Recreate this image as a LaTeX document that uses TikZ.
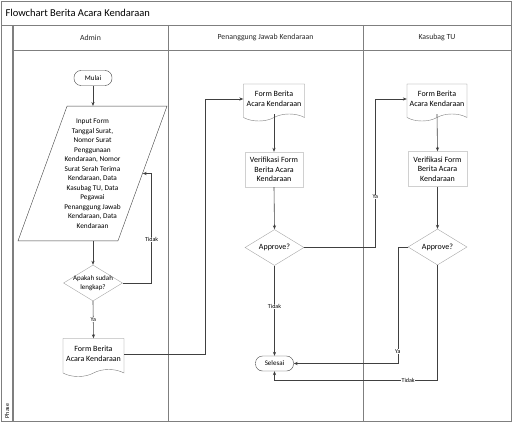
\documentclass[tikz,border=0pt]{standalone}
\usepackage{fontspec}
\setmainfont{Carlito}
\usepackage{tikz}
\usetikzlibrary{shapes.geometric,shapes.symbols,arrows.meta,calc}
\definecolor{framegray}{HTML}{7F7F7F}
\definecolor{shapegray}{HTML}{A6A6A6}
\definecolor{boxgray}{HTML}{D0D0D0}
\definecolor{linedark}{HTML}{404040}

\begin{document}
\begin{tikzpicture}[x=1pt,y=-1pt,
  lane/.style={draw=framegray,line width=0.6pt},
  header/.style={font=\fontsize{7.8}{9}\selectfont,text=black!85},
  terminal/.style={draw=linedark,rounded corners=7pt,inner sep=0pt,
                   minimum width=38pt,minimum height=15pt,
                   font=\fontsize{7}{8}\selectfont},
  io/.style={draw=linedark,trapezium,trapezium left angle=70,
             trapezium right angle=110,
             inner xsep=-2.7pt,inner ysep=12.7pt,align=center,
             font=\fontsize{7.3}{9.5}\selectfont},
  decision/.style={draw=shapegray,diamond,aspect=1.6,inner sep=0pt,
                   minimum width=59pt,minimum height=36pt,align=center,
                   font=\fontsize{8}{9}\selectfont},
  process/.style={draw=boxgray,rectangle,minimum width=58pt,
                  minimum height=35pt,align=center,inner sep=0pt,
                  font=\fontsize{8}{9.5}\selectfont},
  doc/.style={draw=framegray,tape,tape bend top=none,tape bend height=7pt,
              minimum width=61pt,minimum height=37pt,inner sep=0pt,
              align=center,font=\fontsize{8}{9.5}\selectfont},
  arrow/.style={-{Stealth[length=4pt,width=3.2pt]},draw=linedark,line width=0.6pt},
  lbl/.style={fill=white,inner sep=0.5pt,font=\fontsize{6}{7}\selectfont}
]
\useasboundingbox (0,0) rectangle (513,425);

% frame and swimlanes
\draw[lane] (1,1) rectangle (511,421);
\draw[lane] (1,25) -- (511,25);
\draw[lane] (13,50) -- (511,50);
\draw[lane,line width=1.2pt] (13,25) -- (13,421);
\draw[lane] (168,25) -- (168,421);
\draw[lane] (363,25) -- (363,421);
\node[anchor=west,font=\fontsize{10.5}{12}\selectfont] (title) at (2,13) {Flowchart Berita Acara Kendaraan};
\node[header] (hadmin) at (90.5,37.5) {Admin};
\node[header] (hpj) at (265.5,37.5) {Penanggung Jawab Kendaraan};
\node[header] (hkasubag) at (437,37.5) {Kasubag TU};
\node[rotate=90,font=\fontsize{6}{7}\selectfont] (phase) at (7,411) {Phase};

% Admin
\node[terminal] (mulai) at (93,78) {Mulai};
\node[io] (inp) at (92.5,173.5) {Input Form\\Tanggal Surat,\\Nomor Surat\\Penggunaan\\Kendaraan, Nomor\\Surat Serah Terima\\Kendaraan, Data\\Kasubag TU, Data\\Pegawai\\Penanggung Jawab\\Kendaraan, Data\\Kendaraan};
\node[decision,inner xsep=-9pt,font=\fontsize{7}{8.5}\selectfont] (cek) at (93,283) {Apakah sudah\\lengkap?};
\node[doc,minimum height=38pt] (formA) at (93.5,354) {Form Berita\\Acara Kendaraan};

% Penanggung Jawab Kendaraan
\node[doc] (formB) at (274,99) {Form Berita\\Acara Kendaraan};
\node[process] (verB) at (274,169.5) {Verifikasi Form\\Berita Acara\\Kendaraan};
\node[decision] (appB) at (274.5,247.5) {Approve?};
\node[terminal] (selesai) at (274.5,363.5) {Selesai};

% Kasubag TU
\node[doc,minimum width=60pt] (formC) at (437,99) {Form Berita\\Acara Kendaraan};
\node[process,minimum width=59pt] (verC) at (437.5,169) {Verifikasi Form\\Berita Acara\\Kendaraan};
\node[decision] (appC) at (437.5,247) {Approve?};

% connectors
\draw[arrow] (mulai.south) -- (mulai.south |- inp.north);
\draw[arrow] (cek.north |- inp.south) -- (cek.north);
\draw[arrow] (cek.east) -- ++(29,0) |- node[lbl,pos=0.2]{Tidak} (inp.east);
\draw[arrow] (cek.south) -- node[lbl]{Ya} (formA.north);
\draw[arrow] (formA.east) -- ++(81,0) |- (formB.west);
\draw[arrow] (formB.south) -- (verB.north);
\draw[arrow] (verB.south) -- (appB.north);
\draw[arrow] (appB.south) -- node[lbl,pos=0.45]{Tidak} (selesai.north);
\draw[arrow] (appB.east) -- ++(71,0) |- node[lbl,pos=0.17]{Ya} (formC.west);
\draw[arrow] (formC.south) -- (verC.north);
\draw[arrow] (verC.south) -- (appC.north);
\draw[arrow] (appC.west) -- ++(-10,0) |- node[lbl,pos=0.45]{Ya} (selesai.east);
\draw[arrow] (appC.south) -- ++(0,115) -| node[lbl,pos=0.09]{Tidak} (selesai.south);
\end{tikzpicture}
\end{document}
